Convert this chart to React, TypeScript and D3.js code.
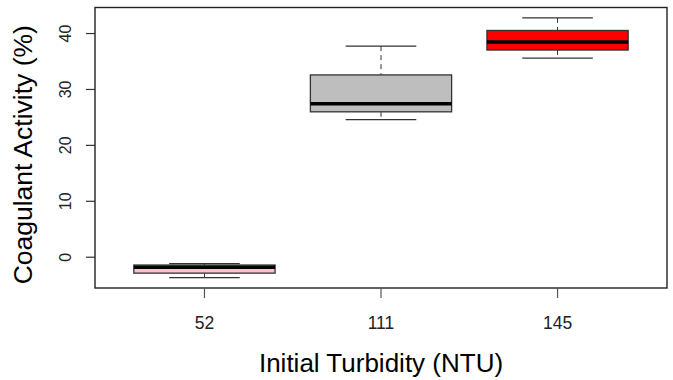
import React from "react";
import * as d3 from "d3";

const categories = ["52", "111", "145"];
const lowerWhisker = [-3.65, 24.6, 35.6];
const q1 = [-2.85, 26.0, 37.05];
const median = [-1.8, 27.45, 38.5];
const q3 = [-1.4, 32.6, 40.55];
const upperWhisker = [-1.15, 37.75, 42.8];
const fills = ["#FFC0CB", "#BEBEBE", "#FF0000"];
const yTicks = [0, 10, 20, 30, 40];

const W = 673, H = 380;
const plot = { left: 95, right: 667, top: 7.5, bottom: 288 };

export default function App() {
  const dataMin = d3.min(lowerWhisker)!;
  const dataMax = d3.max(upperWhisker)!;
  const pad = (dataMax - dataMin) * 0.04;
  const y = d3.scaleLinear().domain([dataMin - pad, dataMax + pad]).range([plot.bottom, plot.top]);
  const x = d3.scaleLinear().domain([0.38, 3.62]).range([plot.left, plot.right]);
  const unit = x(1) - x(0);
  const boxW = unit * 0.8;
  const capW = boxW / 2;
  const font = "'Liberation Sans', Arial, sans-serif";

  return (
    <svg width={W} height={H} style={{ position: "absolute", left: 0, top: 0, background: "#fff" }} fontFamily={font}>
      <rect x={0} y={0} width={W} height={H} fill="#fff" />
      {categories.map((c, i) => {
        const cx = x(i + 1);
        return (
          <g key={c}>
            <line x1={cx} x2={cx} y1={y(upperWhisker[i])} y2={y(q3[i])} stroke="#333" strokeWidth={1} strokeDasharray="5,4" />
            <line x1={cx} x2={cx} y1={y(q1[i])} y2={y(lowerWhisker[i])} stroke="#333" strokeWidth={1} strokeDasharray="5,4" />
            <line x1={cx - capW / 2} x2={cx + capW / 2} y1={y(upperWhisker[i])} y2={y(upperWhisker[i])} stroke="#333" strokeWidth={1.2} />
            <line x1={cx - capW / 2} x2={cx + capW / 2} y1={y(lowerWhisker[i])} y2={y(lowerWhisker[i])} stroke="#333" strokeWidth={1.2} />
            <rect x={cx - boxW / 2} y={y(q3[i])} width={boxW} height={y(q1[i]) - y(q3[i])} fill={fills[i]} stroke="#333" strokeWidth={1.3} />
            <line x1={cx - boxW / 2} x2={cx + boxW / 2} y1={y(median[i])} y2={y(median[i])} stroke="#000" strokeWidth={3.5} />
          </g>
        );
      })}
      <rect x={plot.left} y={plot.top} width={plot.right - plot.left} height={plot.bottom - plot.top} fill="none" stroke="#222" strokeWidth={1.4} />
      {yTicks.map((t) => (
        <g key={t}>
          <line x1={plot.left - 9} x2={plot.left} y1={y(t)} y2={y(t)} stroke="#333" strokeWidth={1.2} />
          <text transform={`translate(71,${y(t)}) rotate(-90)`} textAnchor="middle" fontSize={16} fill="#222">{t}</text>
        </g>
      ))}
      {categories.map((c, i) => (
        <g key={c}>
          <line x1={x(i + 1)} x2={x(i + 1)} y1={plot.bottom} y2={plot.bottom + 10} stroke="#555" strokeWidth={1.2} />
          <text x={x(i + 1)} y={328.5} textAnchor="middle" fontSize={17.5} fill="#222">{c}</text>
        </g>
      ))}
      <text x={(plot.left + plot.right) / 2} y={371.5} textAnchor="middle" fontSize={26} fill="#000">Initial Turbidity (NTU)</text>
      <text transform={`translate(32,${(plot.top + plot.bottom) / 2 + 7}) rotate(-90)`} textAnchor="middle" fontSize={26.5} fill="#000">Coagulant Activity (%)</text>
    </svg>
  );
}
